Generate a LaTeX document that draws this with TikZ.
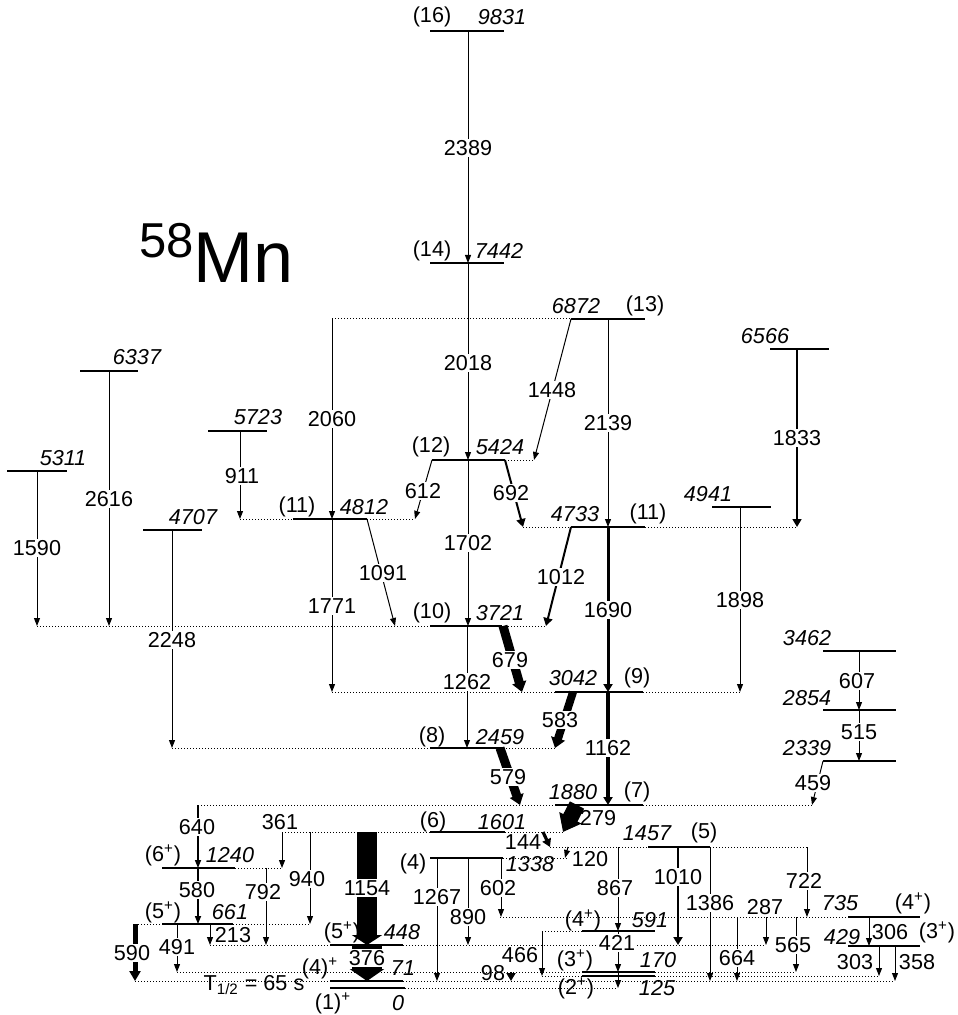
\documentclass[tikz,border=0pt]{standalone}
\usepackage{fontspec}
\setmainfont{Liberation Sans}
\usetikzlibrary{arrows.meta}

\begin{document}
\begin{tikzpicture}[x=0.5pt, y=-0.5pt, font=\fontsize{10.8}{12}\selectfont,
	   lv/.style={line width=0.6pt},
	   dl/.style={line width=0.5pt, dash pattern=on 0.5pt off 1pt},
	   g/.style={line width=0.5pt, -{Triangle[length=4pt,width=3pt]}},
	   gt/.style={-{Triangle[length=4pt,width=4.5pt]}},
	   gw/.style={-{Triangle[length=5pt,width=7pt]}},
	   lab/.style={fill=white, inner sep=0.8pt},
	   en/.style={font=\fontsize{10.8}{12}\selectfont\itshape}]
	  \useasboundingbox (0,0) rectangle (957,1015);
	  \node[anchor=base west, inner sep=0pt] (iso) at (139,283) {\fontsize{24.5}{24.5}\selectfont\raisebox{12.5pt}{58}\fontsize{36}{36}\selectfont Mn};
	  \foreach \ea/\yy/\xa/\xb in {9831/31/430/504, 7442/263/430/504, 6872/319/571/645, 6566/349/770/829,
	      6337/371/80/138, 5311/471/7/67, 5723/431/208/267, 5424/460/432/505, 4941/507/712/771,
	      4812/519/293/367, 4733/527/571/645, 4707/530/143/202, 3721/626/430/502, 3462/651/823/896,
	      3042/692/555/643, 2854/710/823/896, 2459/748/430/503, 2339/761/823/896, 1880/805/555/643,
	      1601/832/430/505, 1457/847/648/710, 1338/858/430/503, 1240/868/162/235, 735/917/848/920,
	      661/924/162/233, 448/945/330/403, 591/931/582/655, 429/946/848/920, 170/972/582/655,
	      125/976/582/655, 71/981/330/403, 0/988/330/405}
	    {\coordinate (e\ea) at (0,\yy);
	     \draw[lv] (\xa,\yy) -- (\xb,\yy);}
	  \foreach \ea/\xa/\xb in {6872/332/571, 5424/505/534, 4812/240/293, 4812/367/415, 4733/523/571,
	      4733/645/797, 3721/37/430, 3721/502/546, 3042/332/555, 3042/643/740, 2459/172/430,
	      2459/503/555, 1880/198/555, 1880/643/812, 1601/282/430, 1601/505/563, 1457/550/648,
	      1457/710/807, 1338/503/568, 1240/235/282, 735/500/848, 661/135/162, 661/233/310,
	      448/210/330, 448/403/766, 591/542/582, 170/177/582, 170/655/796, 125/542/582,
	      125/655/879, 71/135/330, 71/403/895, 0/405/618}
	    \draw[dl] (\xa,0 |- e\ea) -- (\xb,0 |- e\ea);
	  \foreach \ea/\lx/\ly in {9831/502/17, 7442/499/251, 6872/576/306, 6566/765/336, 6337/137/357,
	      5311/63/458, 5723/258/417, 5424/500/447, 4941/708/494, 4812/364/507, 4733/575/514,
	      4707/193/517, 3721/500/613, 3462/807/638, 3042/573/678, 2854/807/698, 2459/500/737,
	      2339/807/748, 1880/573/792, 1601/502/822, 1457/647/833, 1338/530/864, 1240/230/855,
	      735/840/903, 661/230/912, 448/402/932, 591/650/920, 429/842/937, 170/658/960,
	      125/657/988, 71/403/968, 0/398/1003}
	    \node[en] (n\ea) at (\lx,\ly) {\ea};
	  \foreach \ea/\lx/\ly/\lbl in {9831/432/17/(16), 7442/432/251/(14), 6872/645/306/(13),
	      5424/431/447/(12), 4812/297/507/(11), 4733/648/514/(11), 3721/432/613/(10), 3042/637/678/(9),
	      2459/432/737/(8), 1880/637/792/(7), 1601/433/822/(6), 1457/704/833/(5), 1338/413/864/(4),
	      1240/163/855/{(6\textsuperscript{+})}, 735/913/903/{(4\textsuperscript{+})},
	      661/163/912/{(5\textsuperscript{+})}, 448/342/932/{(5\textsuperscript{+})},
	      591/583/920/{(4\textsuperscript{+})}, 429/937/932/{(3\textsuperscript{+})},
	      170/575/960/{(3\textsuperscript{+})}, 125/576/988/{(2\textsuperscript{+})},
	      71/320/968/{(4)\textsuperscript{+}}, 0/333/1003/{(1)\textsuperscript{+}}}
	    \node (s\ea) at (\lx,\ly) {\lbl};
	  \node (thalf) at (254,985) {T\textsubscript{1/2} = 65 s};
	  \foreach \xa/\ea/\eb/\lx/\ly/\lbl in {468/9831/7442/468/148/2389, 468/7442/5424/468/363/2018,
	      332/6872/4812/332/419/2060, 608/6872/4733/608/423/2139, 109/6337/3721/109/499/2616,
	      37/5311/3721/37/548/1590, 240/5723/4812/242/476/911, 468/5424/3721/468/543/1702,
	      740/4941/3042/740/600/1898, 332/4812/3042/332/606/1771, 172/4707/2459/172/640/2248,
	      467/3721/2459/467/682/1262, 859/3462/2854/857/681/607, 859/2854/2339/859/732/515,
	      310/1601/661/307/879/940, 710/1457/71/710/903/1386, 807/1457/735/804/881/722,
	      618/1457/591/615/888/867, 437/1338/71/437/897/1267, 468/1338/448/468/917/890,
	      501/1338/735/498/888/602, 266/1240/448/263/892/792, 177/661/170/177/947/491,
	      737/735/71/737/958/664, 796/735/170/793/945/565, 618/591/170/617/943/421}
	    {\draw[g] (\xa,0 |- e\ea) -- (\xa,0 |- e\eb);
	     \node[lab] (g\lbl) at (\lx,\ly) {\lbl};}
	  \foreach \xa/\ea/\eb/\lx/\ly/\lbl in {282/1601/1240/280/822/361, 210/661/448/233/935/213,
	      766/735/448/765/907/287, 869/735/429/890/932/306, 879/429/125/855/962/303,
	      895/429/71/917/962/358, 542/591/125/520/955/466}
	    {\draw[g] (\xa,0 |- e\ea) -- (\xa,0 |- e\eb);
	     \node (g\lbl) at (\lx,\ly) {\lbl};}
	  \draw[g] (618,0 |- e170) -- (618,0 |- e0);
	  \draw[g, line width=0.8pt] (198,0 |- e1880) -- (198,0 |- e1240);
	  \node[lab] (g640) at (197,827) {640};
	  \draw[g, line width=0.8pt] (198,0 |- e1240) -- (198,0 |- e661);
	  \node[lab] (g580) at (197,890) {580};
	  \draw[g] (571,0 |- e6872) -- (534,0 |- e5424);
	  \node[lab] (g1448) at (552,390) {1448};
	  \draw[g] (432,0 |- e5424) -- (415,0 |- e4812);
	  \node[lab] (g612) at (423,491) {612};
	  \draw[g] (367,0 |- e4812) -- (395,0 |- e3721);
	  \node[lab] (g1091) at (383,573) {1091};
	  \draw[gt, line width=1pt] (505,0 |- e5424) -- (523,0 |- e4733);
	  \node[lab] (g692) at (511,493) {692};
	  \draw[gt, line width=1pt] (571,0 |- e4733) -- (546,0 |- e3721);
	  \node[lab] (g1012) at (561,577) {1012};
	  \draw[gt, line width=0.8pt] (797,0 |- e6566) -- (797,0 |- e4733);
	  \node[lab] (g1833) at (797,438) {1833};
	  \draw[gt, line width=1.5pt] (608,0 |- e4733) -- (608,0 |- e3042);
	  \node[lab] (g1690) at (608,610) {1690};
	  \draw[gt, line width=1.8pt] (608,0 |- e3042) -- (608,0 |- e1880);
	  \node[lab] (g1162) at (608,748) {1162};
	  \draw[gt, line width=1.3pt] (678,0 |- e1457) -- (678,0 |- e448);
	  \node[lab] (g1010) at (678,877) {1010};
	  \draw[gw, line width=4.5pt] (503,0 |- e3721) -- (522,0 |- e3042);
	  \node[lab] (g679) at (510,660) {679};
	  \draw[gw, line width=4pt] (573,0 |- e3042) -- (555,0 |- e2459);
	  \node[lab] (g583) at (560,720) {583};
	  \draw[gw, line width=4.5pt] (500,0 |- e2459) -- (520,0 |- e1880);
	  \node[lab] (g579) at (508,777) {579};
	  \draw[g] (823,0 |- e2339) -- (812,0 |- e1880);
	  \node[lab] (g459) at (813,783) {459};
	  \draw[-{Triangle[length=8pt,width=12pt]}, line width=8pt] (577,0 |- e1880) -- (563,0 |- e1601);
	  \node (g279) at (598,818) {279};
	  \draw[gt, line width=1.6pt] (543,0 |- e1601) -- (550,0 |- e1457);
	  \node (g144) at (523,842) {144};
	  \draw[g] (568,0 |- e1457) -- (565,0 |- e1338);
	  \node (g120) at (590,859) {120};
	  \draw[-{Triangle[length=5pt,width=15pt]}, line width=10pt] (367,0 |- e1601) -- (367,0 |- e448);
	  \node[lab] (g1154) at (367,888) {1154};
	  \draw[-{Triangle[length=6pt,width=17pt]}, line width=15pt] (367,0 |- e448) -- (367,0 |- e71);
	  \node[lab] (g376) at (367,958) {376};
	  \draw[-{Triangle[length=5pt,width=5.5pt]}, line width=2.5pt] (135,0 |- e661) -- (135,0 |- e71);
	  \node[lab] (g590) at (132,953) {590};
	  \draw[gt, line width=1.2pt] (511,0 |- e170) -- (511,0 |- e71);
	  \node (g98) at (493,973) {98};
	\end{tikzpicture}
\end{document}
